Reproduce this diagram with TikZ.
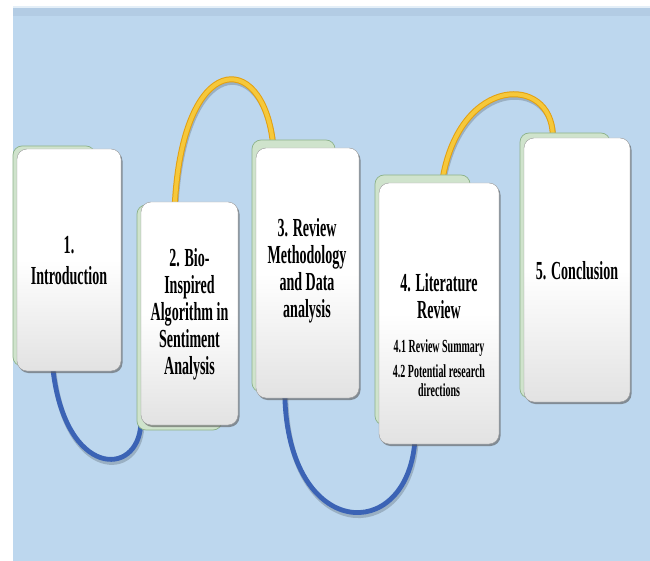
\documentclass[tikz,border=0pt]{standalone}
\usepackage{fontspec}
\newfontfamily\boxfont{Liberation Serif}[FakeStretch=0.54]
\usetikzlibrary{shadows,calc}
\definecolor{bgblue}{HTML}{BDD7EE}
\definecolor{bandblue}{HTML}{B3CCE4}
\definecolor{cardfill}{HTML}{CFE3CC}
\definecolor{cardedge}{HTML}{8DB28A}
\definecolor{paneledge}{HTML}{9A9A9A}
\definecolor{panelbottom}{HTML}{E2E2E2}
\definecolor{arcgold}{HTML}{F6C83A}
\definecolor{arcorange}{HTML}{E3A010}
\definecolor{arcblue}{HTML}{3B63B5}
\tikzset{
  card/.style={draw=cardedge, fill=cardfill, line width=0.7pt, rounded corners=9pt, inner sep=0pt},
  panel/.style={draw=paneledge, line width=0.4pt, rounded corners=10pt, inner sep=0pt,
    top color=white, bottom color=panelbottom, middle color=white,
    drop shadow={shadow xshift=1.5pt, shadow yshift=-2pt, fill=black!65, opacity=0.6}},
  frame/.style={inner sep=0pt},
  title/.style={align=center, inner sep=0pt, text=black, font=\boxfont\bfseries\fontsize{26}{27}\selectfont},
  sub/.style={align=center, inner sep=0pt, text=black, font=\boxfont\bfseries\fontsize{18.5}{19}\selectfont},
  goldarc/.style={draw=arcorange, line width=1pt, double=arcgold, double distance=4pt},
  bluearc/.style={draw=arcblue, line width=4.8pt},
  arcshade/.style={draw=black, opacity=0.18, line width=5pt, transform canvas={xshift=1pt, yshift=-3pt}}
}
\begin{document}
\begin{tikzpicture}[x=1pt, y=-1pt]
\useasboundingbox (0,0) rectangle (650,561);
\fill[white] (0,0) rectangle (650,561);
\fill[bgblue] (13,6) rectangle (650,561);
\fill[bandblue] (13,8) rectangle (650,16);
\fill[white!60!bgblue] (13,6) rectangle (650,8);

% box frames (geometry only), so that connectors can be drawn beneath the boxes
\node[frame, minimum width=104pt, minimum height=222pt] (b1) at (69,260) {};
\node[frame, minimum width=97pt, minimum height=223pt] (b2) at (189.5,313.5) {};
\node[frame, minimum width=103pt, minimum height=250pt] (b3) at (307.5,273) {};
\node[frame, minimum width=120pt, minimum height=261pt] (b4) at (439,313.5) {};
\node[frame, minimum width=106pt, minimum height=264pt] (b5) at (577,270) {};

% connectors: shadows
\draw[arcshade] ($(b2.north west)+(34,3)$) .. controls (183,50) and (262,50) .. ($(b3.north west)+(17,-6)$);
\draw[arcshade] ($(b4.north west)+(64,-5)$) .. controls (461,75) and (551,75) .. ($(b5.north west)+(29,-3)$);
\draw[arcshade] ($(b1.south west)+(36,-3)$) .. controls (65,478) and (138,478) .. ($(b2.south west)+(0,-1)$);
\draw[arcshade] ($(b3.south west)+(29,-3)$) .. controls (288,540) and (406,545) .. ($(b4.south west)+(36,-2)$);
% connectors
\draw[goldarc] ($(b2.north west)+(34,3)$) .. controls (183,50) and (262,50) .. ($(b3.north west)+(17,-6)$);
\draw[goldarc] ($(b4.north west)+(64,-5)$) .. controls (461,75) and (551,75) .. ($(b5.north west)+(29,-3)$);
\draw[bluearc] ($(b1.south west)+(36,-3)$) .. controls (65,478) and (138,478) .. ($(b2.south west)+(0,-1)$);
\draw[bluearc] ($(b3.south west)+(29,-3)$) .. controls (288,540) and (406,545) .. ($(b4.south west)+(36,-2)$);

% green back cards
\node[card, minimum width=82pt, minimum height=220pt] (g1) at (54,256) {};
\node[card, minimum width=85pt, minimum height=225pt] (g2) at (179.5,317.5) {};
\node[card, minimum width=83pt, minimum height=252pt] (g3) at (293.5,266) {};
\node[card, minimum width=95pt, minimum height=250pt] (g4) at (422.5,300) {};
\node[card, minimum width=90pt, minimum height=265pt] (g5) at (565,265.5) {};

% white panels
\node[panel, minimum width=104pt, minimum height=222pt] (p1) at (b1) {};
\node[panel, minimum width=97pt, minimum height=223pt] (p2) at (b2) {};
\node[panel, minimum width=103pt, minimum height=250pt] (p3) at (b3) {};
\node[panel, minimum width=120pt, minimum height=261pt] (p4) at (b4) {};
\node[panel, minimum width=106pt, minimum height=264pt] (p5) at (b5) {};

% texts
\node[title] (t1) at (69,261) {1.\\[4pt]Introduction};
\node[title] (t2) at (189.5,314) {2. Bio-\\Inspired\\Algorithm in\\Sentiment\\Analysis};
\node[title] (t3) at (307,271) {3. Review\\Methodology\\and Data\\analysis};
\node[title] (t4) at (439,296) {4. Literature\\Review};
\node[sub] (t4s) at (439,368) {4.1 Review Summary\\[6pt]4.2 Potential research\\directions};
\node[title] (t5) at (577,271) {5. Conclusion};
\end{tikzpicture}
\end{document}
